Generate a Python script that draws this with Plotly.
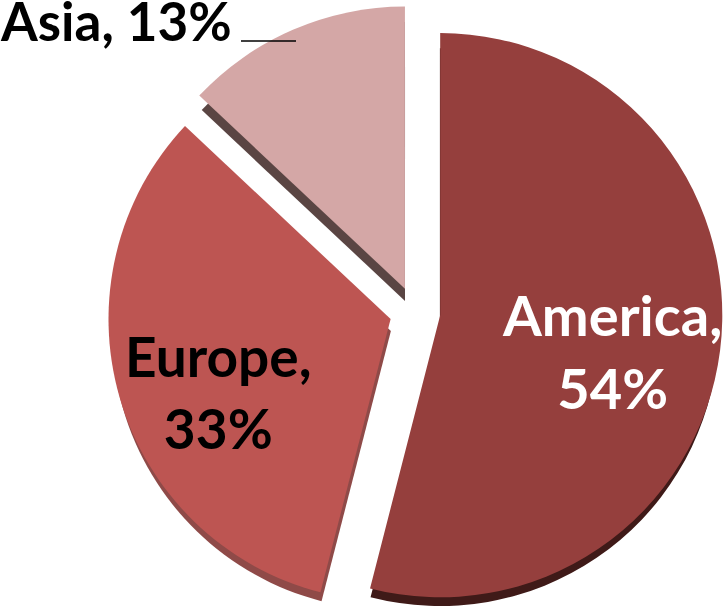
import plotly.graph_objects as go

labels = ["America", "Europe", "Asia"]
values = [54, 33, 13]
colors = ["#953f3d", "#bd5552", "#d4a7a6"]
shadow_colors = ["#3f1a18", "#8f4a48", "#5a4543"]
pull = [0.09, 0.09, 0.09]
FONT = "Lato"
W, H = 728, 640


def px(x):
    return x / W


def py(y):
    return 1 - y / H


dom_x = [107.5 / W, 722.5 / W]
fig = go.Figure()
fig.add_trace(go.Pie(
    labels=labels, values=values, sort=False, direction="clockwise", rotation=0,
    pull=pull, marker=dict(colors=shadow_colors, line=dict(width=0)),
    textinfo="none", hoverinfo="skip", showlegend=False,
    domain=dict(x=dom_x, y=[py(628), py(20)]),
))
fig.add_trace(go.Pie(
    labels=labels, values=values, sort=False, direction="clockwise", rotation=0,
    pull=pull, marker=dict(colors=colors, line=dict(width=0)),
    textinfo="none", showlegend=False,
    domain=dict(x=dom_x, y=[py(619.5), py(4.5)]),
))
common = dict(showarrow=False, xref="paper", yref="paper", xanchor="center", yanchor="middle", align="center")
fig.update_layout(
    width=W, height=H, margin=dict(l=0, r=0, t=0, b=0),
    paper_bgcolor="white", showlegend=False,
    annotations=[
        dict(text=f"<b>{labels[0]},<br>{values[0]}%</b>", x=px(612), y=py(351),
             font=dict(family=FONT, size=56, color="white"), **common),
        dict(text=f"<b>{labels[1]},<br>{values[1]}%</b>", x=px(218), y=py(392),
             font=dict(family=FONT, size=55, color="black"), **common),
        dict(text=f"<b>{labels[2]}, {values[2]}%</b>", x=px(116), y=py(20),
             font=dict(family=FONT, size=53, color="black"), **common),
    ],
    shapes=[dict(type="line", xref="paper", yref="paper", x0=px(241), x1=px(296), y0=py(41), y1=py(41),
                 line=dict(color="black", width=1.5))],
)
fig.write_html("out.html", config={"displayModeBar": False},
               post_script="document.body.style.margin='0';document.documentElement.style.overflow='hidden';")
